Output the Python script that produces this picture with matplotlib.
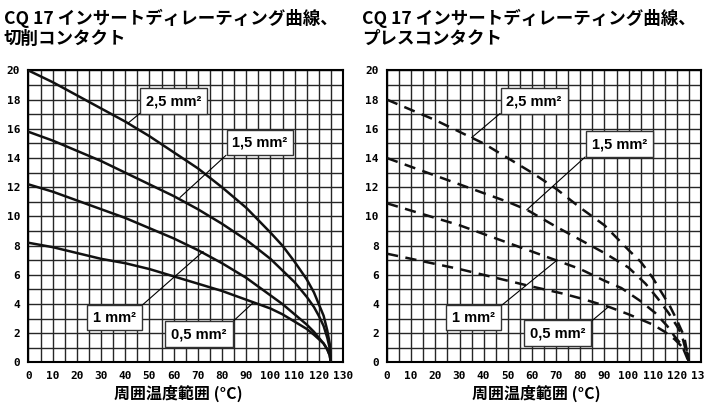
import matplotlib
matplotlib.use("Agg")
import matplotlib.pyplot as plt
import numpy as np

# --- data ------------------------------------------------------------------
# left panel: cut (solid) contacts
temp_cut = [0, 10, 20, 30, 40, 50, 60, 70, 80, 90, 100, 105, 110, 115, 118, 120, 122, 123.5, 124.5, 125]
cut_25 = [20.0, 19.2, 18.3, 17.4, 16.5, 15.5, 14.4, 13.3, 12.0, 10.6, 8.9, 8.0, 6.9, 5.7, 4.8, 4.0, 3.2, 2.2, 1.3, 0.0]
cut_15 = [15.8, 15.2, 14.5, 13.8, 13.0, 12.2, 11.4, 10.5, 9.5, 8.4, 7.1, 6.3, 5.5, 4.5, 3.8, 3.2, 2.5, 1.7, 1.0, 0.0]
cut_10 = [12.2, 11.7, 11.1, 10.5, 9.9, 9.2, 8.5, 7.7, 6.8, 5.8, 4.6, 4.0, 3.3, 2.6, 2.1, 1.7, 1.3, 0.9, 0.5, 0.0]
cut_05 = [8.2, 7.9, 7.5, 7.1, 6.8, 6.4, 5.9, 5.4, 4.9, 4.3, 3.7, 3.3, 2.8, 2.3, 1.9, 1.6, 1.3, 0.9, 0.5, 0.0]

# right panel: crimp (dashed) contacts
temp_crimp_25 = [0, 10, 20, 30, 40, 50, 60, 70, 80, 90, 100, 105, 110, 114, 117, 120, 123, 125]
crimp_25 = [18.0, 17.3, 16.6, 15.8, 15.0, 14.0, 13.0, 11.9, 10.6, 9.4, 7.7, 6.9, 5.8, 4.7, 3.9, 2.9, 1.8, 0.0]
temp_crimp_15 = [0, 10, 20, 30, 40, 50, 58, 70, 80, 90, 100, 107, 112, 116.5, 120, 122, 125]
crimp_15 = [14.0, 13.4, 12.8, 12.2, 11.6, 11.0, 10.45, 9.3, 8.4, 7.5, 6.5, 5.4, 4.4, 3.4, 2.5, 1.9, 0.0]
temp_crimp_10 = [0, 10, 20, 30, 40, 50, 60, 70, 80, 90, 97, 105, 111, 116, 119, 122, 125]
crimp_10 = [10.9, 10.4, 9.9, 9.4, 8.8, 8.2, 7.6, 7.0, 6.4, 5.6, 5.1, 4.2, 3.4, 2.5, 1.8, 1.2, 0.0]
temp_crimp_05 = [0, 10, 20, 30, 40, 50, 60, 72, 80, 92, 100, 110, 115, 119, 122, 124.5, 125]
crimp_05 = [7.45, 7.1, 6.75, 6.4, 6.0, 5.6, 5.2, 4.75, 4.4, 3.8, 3.3, 2.6, 2.1, 1.6, 1.1, 0.6, 0.0]

x_ticks = list(range(0, 131, 10))
y_ticks = list(range(0, 21, 2))

titles = ["CQ 17 インサートディレーティング曲線、\n切削コンタクト",
          "CQ 17 インサートディレーティング曲線、\nプレスコンタクト"]
xlabel = "周囲温度範囲 (°C)"

cjk = ["Noto Sans CJK JP", "DejaVu Sans"]

fig = plt.figure(figsize=(7.05, 4.03), dpi=100)
ax1 = fig.add_axes([0.0404, 0.1005, 0.4461, 0.7246])
ax2 = fig.add_axes([0.549, 0.1005, 0.4454, 0.7246])


def style_axis(ax):
    ax.set_xlim(0, 130)
    ax.set_ylim(0, 20)
    # labels every 10 / every 2, grid every 5 / every 1
    ax.set_xticks(x_ticks)
    ax.set_xticks(np.arange(0, 131, 5), minor=True)
    ax.set_yticks(y_ticks)
    ax.set_yticks(np.arange(0, 21, 1), minor=True)
    ax.grid(True, which="both", color="#262626", lw=1.0)
    ax.set_axisbelow(True)
    ax.tick_params(which="both", length=0)
    ax.tick_params(axis="x", pad=6)
    ax.tick_params(axis="y", pad=6)
    for lab in ax.get_xticklabels() + ax.get_yticklabels():
        lab.set_fontfamily("DejaVu Sans Mono")
        lab.set_fontweight("bold")
        lab.set_fontsize(8)
    for sp in ax.spines.values():
        sp.set_linewidth(1.5)
        sp.set_color("black")
    ax.set_xlabel(xlabel, family=cjk, fontweight="bold", fontsize=11.5, labelpad=3)
    ax.xaxis.set_label_coords(0.475, -0.075)


def box_label(ax, text, xy, xytext, relpos):
    ax.annotate(text, xy=xy, xytext=xytext, textcoords="data",
                ha="center", va="center", fontsize=10.5, fontweight="bold",
                family="Liberation Sans", zorder=6,
                bbox=dict(boxstyle="square,pad=0.4", fc="white", ec="#333333", lw=1.0),
                arrowprops=dict(arrowstyle="-", color="black", lw=0.8,
                                shrinkA=0, shrinkB=0, relpos=relpos))


# left panel
for ys in [cut_25, cut_15, cut_10, cut_05]:
    ax1.plot(temp_cut, ys, color="#111111", lw=1.8, zorder=4)
style_axis(ax1)
box_label(ax1, "2,5 mm²", (41.2, 16.4), (60.1, 17.9), (0, 0))
box_label(ax1, "1,5 mm²", (62.6, 11.3), (95.7, 15.07), (0, 0))
box_label(ax1, "1 mm²", (72.2, 7.6), (35.6, 3.08), (1, 1))
box_label(ax1, "0,5 mm²", (92.9, 4.1), (70.5, 1.94), (1, 1))

# right panel
dash = (0, (4.5, 3))
for xs, ys in [(temp_crimp_25, crimp_25), (temp_crimp_15, crimp_15),
               (temp_crimp_10, crimp_10), (temp_crimp_05, crimp_05)]:
    ax2.plot(xs, ys, color="#111111", lw=1.8, ls=dash, zorder=4)
style_axis(ax2)
box_label(ax2, "2,5 mm²", (35, 15.4), (60.9, 17.9), (0, 0))
box_label(ax2, "1,5 mm²", (57.8, 10.45), (96.1, 14.95), (0, 0))
box_label(ax2, "1 mm²", (70.3, 7.0), (35.9, 3.08), (1, 1))
box_label(ax2, "0,5 mm²", (91.6, 3.8), (70.6, 2.0), (1, 1))

fig.text(0.005, 0.978, titles[0], family=cjk, fontweight="bold", fontsize=12.6,
         va="top", ha="left", linespacing=1.15)
fig.text(0.514, 0.978, titles[1], family=cjk, fontweight="bold", fontsize=12.6,
         va="top", ha="left", linespacing=1.15)

fig.savefig("out.png", dpi=100)
